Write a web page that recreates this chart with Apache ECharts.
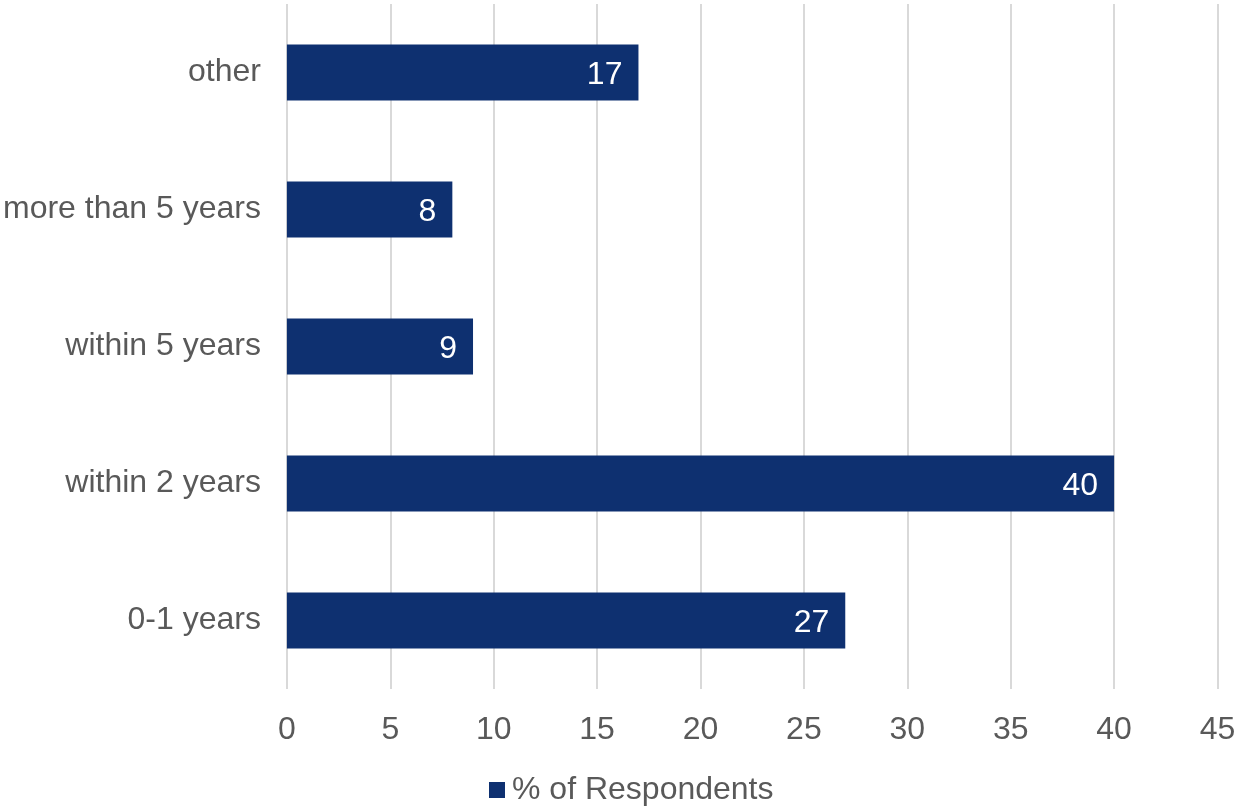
<!DOCTYPE html>
<html>
<head>
<meta charset="utf-8">
<script src="https://cdn.jsdelivr.net/npm/echarts@6/dist/echarts.min.js"></script>
<style>
  html, body { margin: 0; padding: 0; background: #ffffff; }
  #chart { width: 1240px; height: 806px; }
</style>
</head>
<body>
<div id="chart"></div>
<script>
// Horizon categories, listed bottom to top
const categories = ['0-1 years', 'within 2 years', 'within 5 years', 'more than 5 years', 'other'];
// Share of respondents per horizon (%)
const respondents = [27, 40, 9, 8, 17];
const seriesName = '% of Respondents';

const FONT = '"Liberation Sans", Arial, sans-serif';
const chart = echarts.init(document.getElementById('chart'), null, { renderer: 'canvas' });

chart.setOption({
  animation: false,
  backgroundColor: '#ffffff',
  textStyle: { fontFamily: FONT },
  grid: { left: 286.5, right: 22.5, top: 4, bottom: 117 },
  legend: {
    data: [seriesName],
    top: 769,
    left: 484,
    itemWidth: 16,
    itemHeight: 16,
    icon: 'rect',
    textStyle: { fontFamily: FONT, fontSize: 32, color: '#595959', padding: [0, 0, 0, 2] }
  },
  xAxis: {
    type: 'value',
    min: 0,
    max: 45,
    interval: 5,
    axisLine: { show: false },
    axisTick: { show: false },
    splitLine: { show: true, lineStyle: { color: '#d9d9d9', width: 2 } },
    axisLabel: { fontFamily: FONT, fontSize: 32, color: '#595959', margin: 25 }
  },
  yAxis: {
    type: 'category',
    data: categories,
    axisLine: { show: false },
    axisTick: { show: false },
    axisLabel: { fontFamily: FONT, fontSize: 32, color: '#595959', margin: 26, padding: [6, 0, 0, 0] }
  },
  series: [{
    name: seriesName,
    type: 'bar',
    data: respondents,
    barWidth: 56,
    itemStyle: { color: '#0e3070' },
    label: {
      show: true,
      position: 'insideRight',
      distance: 16,
      offset: [0, 3],
      fontFamily: FONT,
      fontSize: 32,
      color: '#ffffff'
    }
  }]
});
</script>
</body>
</html>
